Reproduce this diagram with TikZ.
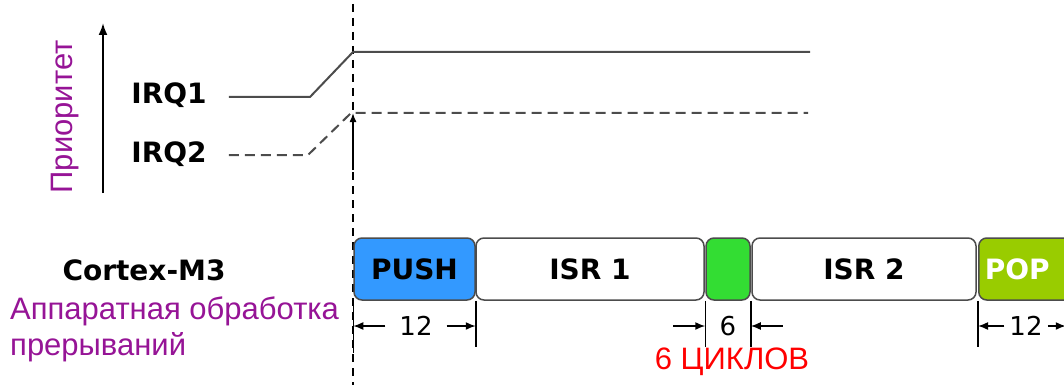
\documentclass[tikz,border=0pt]{standalone}
\usepackage{fontspec}
\setmainfont{DejaVu Sans}
\newfontfamily\arialfont{Liberation Sans}
\usetikzlibrary{arrows.meta,positioning}
\definecolor{pPurple}{RGB}{150,20,150}
\definecolor{pBlue}{RGB}{51,153,255}
\definecolor{pGreen}{RGB}{51,221,51}
\definecolor{pLime}{RGB}{153,204,0}
\definecolor{pEdge}{gray}{0.3}
\tikzset{
    blk/.style={draw=pEdge, line width=1.5pt, rounded corners=8pt, minimum height=62pt,
                inner sep=0pt, font=\fontsize{28}{30}\selectfont\bfseries},
    lbl/.style={inner sep=0pt, font=\fontsize{28}{30}\selectfont\bfseries},
    rus/.style={inner sep=0pt, text=pPurple, font=\arialfont\fontsize{31}{36}\selectfont},
    num/.style={inner sep=0pt, inner xsep=14pt, font=\fontsize{26}{28}\selectfont},
    tick/.style={line width=1.5pt},
    dim/.style={line width=1.5pt, -{Latex[length=10pt,width=8pt]}}
}
\begin{document}
\begin{tikzpicture}[x=1pt,y=-1pt]
\useasboundingbox (0,0) rectangle (1064,385);
% time axis
\coordinate (ttop) at (353,4);
\coordinate (tbot) at (353,385);
\draw[line width=1.5pt, dash pattern=on 8pt off 6pt] (ttop) -- (tbot);
% priority
\coordinate (plow) at (103,193);
\coordinate (phigh) at (103,23);
\draw[line width=2pt, -{Latex[length=12pt,width=9pt]}] (plow) -- (phigh);
\node[rus, rotate=90] (prio) at (65,117) {Приоритет};
\node[lbl] (irq1) at (169,95) {IRQ1};
\node[lbl] (irq2) at (169,154) {IRQ2};
\coordinate (i1a) at (310,97);
\coordinate (i1b) at (353,52);
\coordinate (i1c) at (810,52);
\coordinate (i2a) at (308,155);
\coordinate (i2b) at (351,113);
\coordinate (i2c) at (808,113);
\draw[line width=2pt, pEdge] ([xshift=22pt]irq1.east |- i1a) -- (i1a) -- (i1b) -- (i1c);
\draw[line width=2pt, pEdge, dash pattern=on 10pt off 6pt] ([xshift=22pt]irq2.east |- i2a) -- (i2a) -- (i2b) -- (i2c);
\coordinate (up) at (353,170);
\draw[line width=1.5pt, -{Latex[length=9pt,width=7pt]}] (up) -- (i2b -| up);
% core
\node[lbl] (core) at (144,270) {Cortex-M3};
\node[rus, align=left, anchor=west] (hw) at (10,329) {Аппаратная обработка\\прерываний};
\node[blk, fill=pBlue, minimum width=121pt] (push) at (414.5,269) {PUSH};
\node[blk, fill=white, minimum width=228pt] (isr1) at (590,269) {ISR 1};
\node[blk, fill=pGreen, minimum width=44pt] (tail) at (728,269) {};
\node[blk, fill=white, minimum width=224pt] (isr2) at (864,269) {ISR 2};
\node[blk, fill=pLime, text=white, anchor=west, text width=100pt, align=left, inner xsep=6pt] (pop) at (978,269) {POP};
% cycles
\draw[tick] (push.south west) -- ++(0,52);
\draw[tick] (push.south east) -- ++(0,46);
\draw[tick] (tail.south west) -- ++(0,46);
\draw[tick] (tail.south east) -- ++(0,46);
\draw[tick] (pop.south west) -- ++(0,46);
\node[num] (n1) at (416,326) {12};
\draw[dim] (n1.west) -- (push.south west |- n1);
\draw[dim] (n1.east) -- (push.south east |- n1);
\node[num] (n2) at (728,326) {6};
\draw[dim] ([xshift=-32pt]tail.south west |- n2) -- (tail.south west |- n2);
\draw[dim] ([xshift=32pt]tail.south east |- n2) -- (tail.south east |- n2);
\node[num, inner xsep=5pt] (n3) at (1026,326) {12};
\draw[dim] (n3.west) -- (pop.south west |- n3);
\draw[dim] (n3.east) -- ++(18,0);
\node[rus, text=red] (cyc) at (732,362) {6 ЦИКЛОВ};
\end{tikzpicture}
\end{document}
